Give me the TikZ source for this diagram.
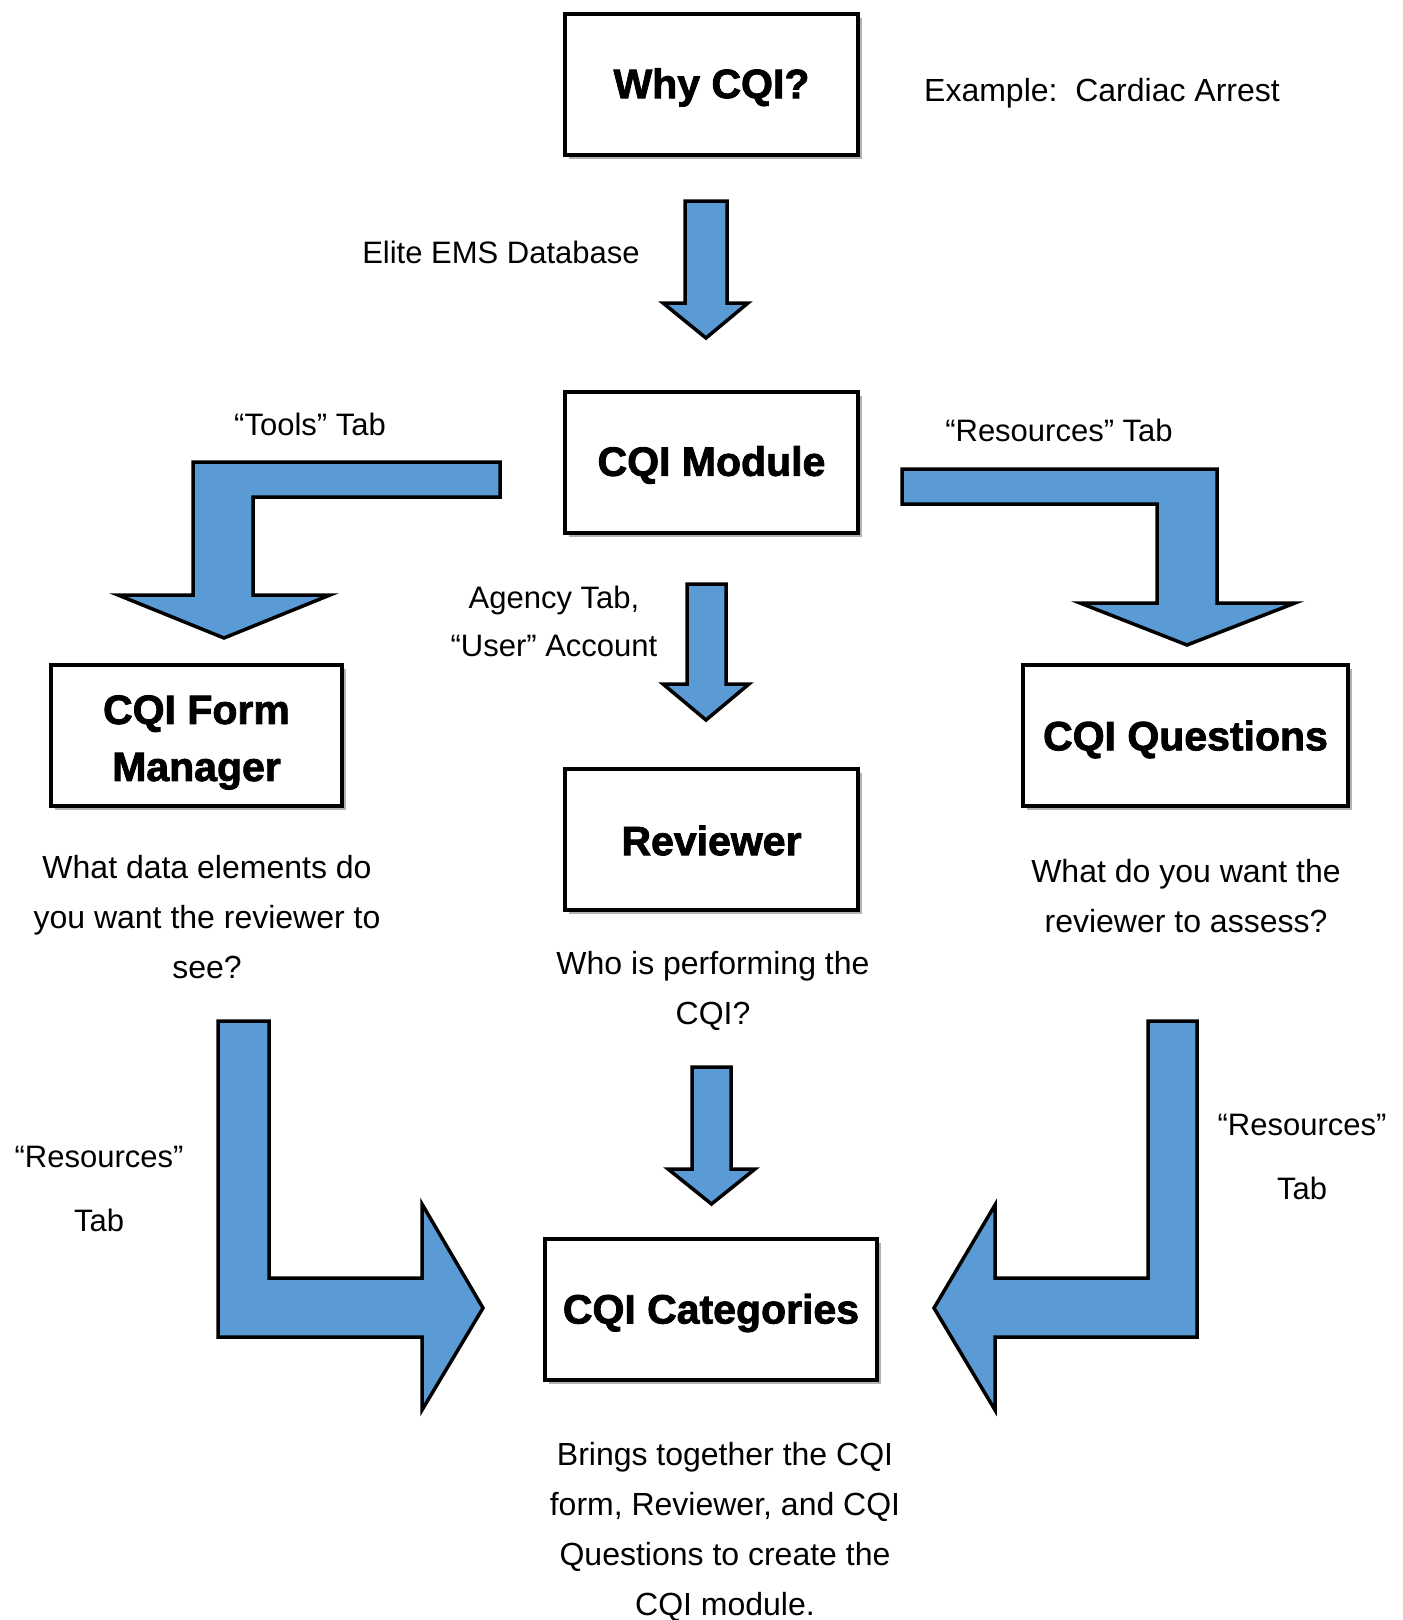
\documentclass[tikz,border=0pt]{standalone}
\usepackage{fontspec}
\setmainfont{Liberation Sans}
\newfontfamily\boxfont{Liberation Sans}[BoldFeatures={FakeBold=2}]
\usetikzlibrary{shadows}
\definecolor{arrowblue}{HTML}{5B9BD5}
\begin{document}
\begin{tikzpicture}[x=1pt,y=-1pt,
  box/.style={draw=black, line width=4pt, fill=white, inner sep=0pt,
    minimum height=141pt, align=center,
    font=\boxfont\bfseries\fontsize{41}{57}\selectfont,
    drop shadow={shadow xshift=4pt, shadow yshift=-4pt, fill=black, opacity=0.3}},
  boxtext/.style={inner sep=0pt, align=center,
    font=\boxfont\bfseries\fontsize{41}{57}\selectfont},
  blockarrow/.style={draw=black, line width=3.5pt, fill=arrowblue, line join=miter},
  lbl/.style={inner sep=0pt, align=center, font=\fontsize{31}{48}\selectfont},
  desc/.style={inner sep=0pt, align=center, font=\fontsize{32}{50}\selectfont}]
\useasboundingbox[fill=white] (0,0) rectangle (1403,1620);

% boxes
\node[box, minimum width=293pt] (why) at (711.5,84.5) {};
\node[box, minimum width=293pt] (module) at (711.5,462) {};
\node[box, minimum width=291pt] (form) at (196.5,735.5) {};
\node[box, minimum width=293pt] (reviewer) at (711.5,839.5) {};
\node[box, minimum width=325pt] (questions) at (1185.5,735.5) {};
\node[box, minimum width=332pt] (categories) at (711,1309) {};

% box texts
\node[boxtext] (whyt) at ([yshift=-3pt]why.center) {Why CQI?};
\node[boxtext] (modulet) at ([yshift=-3pt]module.center) {CQI Module};
\node[boxtext] (formt) at ([yshift=-7pt]form.center) {CQI Form\\Manager};
\node[boxtext] (reviewert) at ([yshift=-1pt]reviewer.center) {Reviewer};
\node[boxtext] (questionst) at ([yshift=-4pt]questions.center) {CQI Questions};
\node[boxtext] (categoriest) at ([yshift=-4pt]categories.center) {CQI Categories};

% straight block arrows
\draw[blockarrow] (685,201) -- (727,201) -- (727,303) -- (748,303) -- (706,338)
  -- (663,303) -- (685,303) -- cycle;
\draw[blockarrow] (687,584) -- (726,584) -- (726,684) -- (749,684) -- (706,720)
  -- (663,684) -- (687,684) -- cycle;
\draw[blockarrow] (692,1067) -- (731,1067) -- (731,1169) -- (755,1169) -- (711.5,1204)
  -- (668,1169) -- (692,1169) -- cycle;

% bent block arrows
\draw[blockarrow] (500,462) -- (193,462) -- (193,595) -- (118,595) -- (224,638)
  -- (330,595) -- (253,595) -- (253,497) -- (500,497) -- cycle;
\draw[blockarrow] (902,469) -- (1217,469) -- (1217,603) -- (1295,603) -- (1187,645)
  -- (1080,603) -- (1157,603) -- (1157,504) -- (902,504) -- cycle;
\draw[blockarrow] (218,1021) -- (269,1021) -- (269,1278) -- (422,1278) -- (422,1204)
  -- (483,1308) -- (422,1410) -- (422,1337) -- (218,1337) -- cycle;
\draw[blockarrow] (1197,1021) -- (1148,1021) -- (1148,1278) -- (995,1278) -- (995,1205)
  -- (934,1308) -- (995,1410) -- (995,1337) -- (1197,1337) -- cycle;

% labels
\node[lbl, font=\fontsize{32}{48}\selectfont] (example) at (1102,93) {Example:\ \ Cardiac Arrest};
\node[lbl] (elite) at (501,252) {Elite EMS Database};
\node[lbl] (tools) at (310,424) {“Tools” Tab};
\node[lbl] (restop) at (1059,430) {“Resources” Tab};
\node[lbl] (agency) at (554,621) {Agency Tab,\\“User” Account};
\node[lbl, font=\fontsize{31}{64}\selectfont] (resleft) at (99,1189) {“Resources”\\Tab};
\node[lbl, font=\fontsize{31}{64}\selectfont] (resright) at (1302,1157) {“Resources”\\Tab};

% descriptions
\node[desc] (formdesc) at (207,917) {What data elements do\\you want the reviewer to\\see?};
\node[desc] (revdesc) at (713,990.5) {Who is performing the\\CQI?};
\node[desc] (qdesc) at (1186,896) {What do you want the\\reviewer to assess?};
\node[desc] (catdesc) at (725,1532) {Brings together the CQI\\form, Reviewer, and CQI\\Questions to create the\\CQI module.};
\end{tikzpicture}
\end{document}
